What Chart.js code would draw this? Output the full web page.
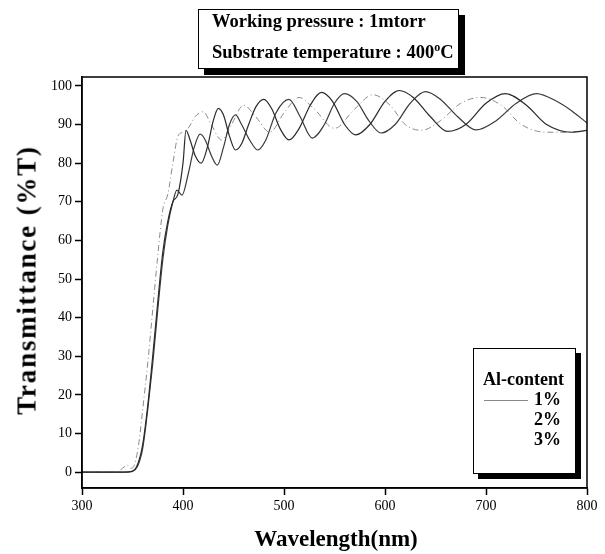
<!DOCTYPE html>
<html>
<head>
<meta charset="utf-8">
<script src="https://cdn.jsdelivr.net/npm/chart.js@4/dist/chart.umd.min.js"></script>
<style>
  html,body{margin:0;padding:0;background:#fff;}
  #wrap{position:relative;width:605px;height:554px;overflow:hidden;}
  canvas{position:absolute;left:0;top:0;}
  .box{position:absolute;background:#fff;border:1px solid #000;box-shadow:6px 6px 0 #000;font-family:"Liberation Serif","Times New Roman",serif;font-weight:bold;color:#000;}
  #ttl{left:198px;top:9px;width:259px;height:58px;font-size:18.5px;}
  #ttl div{position:absolute;left:13px;white-space:nowrap;}
  #leg{left:473px;top:348px;width:101px;height:124px;box-shadow:5px 5px 0 #000;font-size:18px;}
  #leg div{position:absolute;white-space:nowrap;}
  .axt{position:absolute;font-family:"Liberation Serif","Times New Roman",serif;font-weight:bold;color:#000;white-space:nowrap;}
</style>
</head>
<body>
<div id="wrap">
<canvas id="c" width="605" height="554"></canvas>
<div class="box" id="ttl">
  <div style="top:1px">Working pressure : 1mtorr</div>
  <div style="top:30px">Substrate temperature : 400<sup style="font-size:12px">o</sup>C</div>
</div>
<div class="box" id="leg">
  <div style="left:9px;top:20px">Al-content</div>
  <div style="left:10px;top:51px;width:44px;height:0;border-top:1px solid #888"></div>
  <div style="left:60px;top:40px">1%</div>
  <div style="left:60px;top:60px">2%</div>
  <div style="left:60px;top:80px">3%</div>
</div>
<div class="axt" id="ytl" style="font-size:27px;letter-spacing:1.8px;left:27px;top:280px;transform:translate(-50%,-50%) rotate(-90deg);">Transmittance (%T)</div>
<div class="axt" id="xtl" style="font-size:23px;left:336px;top:539px;transform:translate(-50%,-50%);">Wavelength(nm)</div>
</div>
<script>
// ---- data ----
const xTicks = [300, 400, 500, 600, 700, 800];
const yTicks = [0, 10, 20, 30, 40, 50, 60, 70, 80, 90, 100];
const seriesNames = ["1%", "2%", "3%"];

const wl1 = [300,340,350,355,360,365,370,375,380,385,390,395,400,403,407,412,418,424,430,435,440,446,452,458,465,472,480,488,496,505,515,526,537,548,560,571,585,600,614,628,645,662,680,700,719,740,760,785,800];
const t1  = [0,0,0.3,2,7,17,30,44,57,65,70,72,80,88.5,86,82,80,84,91,94.2,92.5,87,83.4,85,90,94.5,96.5,94,89,86,89,95,98.3,96,90,87.3,90,96,98.8,97,92,88.2,90,95.5,98,95,90,88,88.5];

const wl2 = [300,345,350,355,360,365,370,375,380,385,390,394,399,405,411,417,422,428,434,440,446,452,458,466,474,482,492,505,516,528,540,550,560,572,584,596,610,625,640,655,672,690,710,730,750,770,785,800];
const t2  = [0,0,0.2,1.5,6,16,28,42,55,64,70,73,71.7,77,84,87.5,86,82,79.5,84,90,92.5,90,86,83.4,86,93,96.5,92,86.5,90,95.5,98,96,91,87.8,90,95.5,98.5,96.5,92,88.6,91,95.5,98,96,93.5,90.4];

const wl3 = [300,335,340,345,348,352,356,360,365,370,375,380,385,390,395,400,405,412,420,428,438,448,460,472,486,500,515,530,550,570,588,605,620,636,655,675,695,715,735,760,780,800];
const t3  = [0,0,1,1.8,1,2,7,16,28,42,56,68,72,80,87,88,89,92,93.3,90,86,90,95,92,88,93,97,94,89,94,97.7,95,90,88.5,91,95.5,97,95,90,88,88,88.5];

const pts = (xs, ys) => xs.map((x, i) => ({x: x, y: ys[i]}));

const frame = {
  id: 'frame',
  afterDraw(chart) {
    const {ctx, chartArea: a} = chart;
    ctx.save();
    ctx.strokeStyle = '#000';
    ctx.lineWidth = 1.5;
    ctx.strokeRect(a.left, a.top, a.right - a.left, a.bottom - a.top);
    ctx.restore();
  }
};

new Chart(document.getElementById('c'), {
  type: 'line',
  data: {
    datasets: [
      {label: seriesNames[0], data: pts(wl1, t1), borderColor: '#2a2a2a', borderWidth: 1.2, pointRadius: 0, cubicInterpolationMode: 'monotone', fill: false},
      {label: seriesNames[1], data: pts(wl2, t2), borderColor: '#3a3a3a', borderWidth: 1.2, pointRadius: 0, cubicInterpolationMode: 'monotone', fill: false},
      {label: seriesNames[2], data: pts(wl3, t3), borderColor: '#8a8a8a', borderWidth: 1, borderDash: [6,3,1,3], pointRadius: 0, cubicInterpolationMode: 'monotone', fill: false}
    ]
  },
  options: {
    responsive: false,
    animation: false,
    events: [],
    layout: {padding: {top: 77, right: 18, left: 0, bottom: 0}},
    plugins: {legend: {display: false}, title: {display: false}, tooltip: {enabled: false}},
    scales: {
      x: {
        type: 'linear', min: 300, max: 800,
        afterBuildTicks: s => { s.ticks = xTicks.map(v => ({value: v})); },
        afterFit: s => { s.height = 66; },
        grid: {drawOnChartArea: false, drawTicks: true, tickLength: 7, color: '#000', tickWidth: 1.5},
        border: {display: true, color: '#000', width: 1.5},
        ticks: {color: '#000', font: {family: '"Liberation Serif", serif', size: 14}, padding: 3, maxRotation: 0}
      },
      y: {
        type: 'linear', min: -4.1, max: 102.3,
        afterBuildTicks: s => { s.ticks = yTicks.map(v => ({value: v})); },
        afterFit: s => { s.width = 82; },
        grid: {drawOnChartArea: false, drawTicks: true, tickLength: 7, color: '#000', tickWidth: 1.5},
        border: {display: true, color: '#000', width: 1.5},
        ticks: {color: '#000', font: {family: '"Liberation Serif", serif', size: 14}, padding: 3}
      }
    }
  },
  plugins: [frame]
});
</script>
</body>
</html>
